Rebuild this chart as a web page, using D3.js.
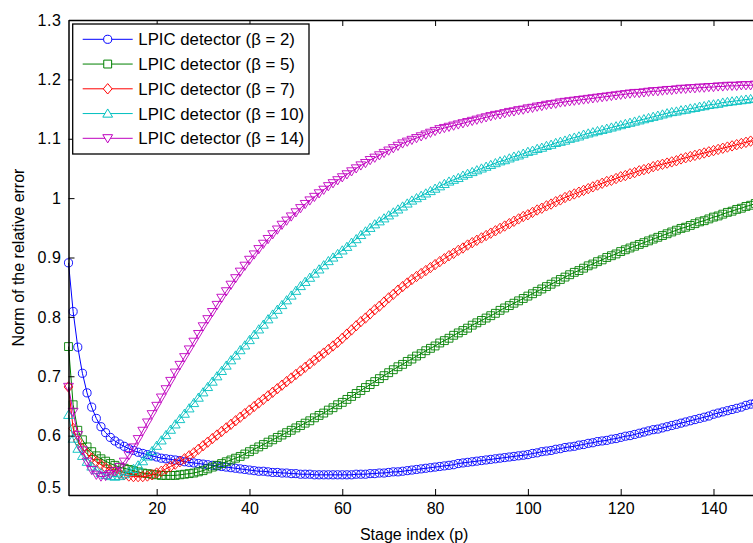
<!DOCTYPE html>
<html>
<head>
<meta charset="utf-8">
<script src="https://cdn.jsdelivr.net/npm/d3@7/dist/d3.min.js"></script>
<style>
  html, body { margin: 0; padding: 0; background: #fff; }
  svg { display: block; }
  text { font-family: "Liberation Sans", Arial, Helvetica, sans-serif; fill: #000; }
</style>
</head>
<body>
<svg id="chart" width="753" height="543"></svg>
<script>
// ---------------- data ----------------
const stages = d3.range(1, 151); // stage index p = 1..150

const beta2 = [.891,.809,.749,.705,.672,.648,.629,.615,.605,.597,
.591,.586,.582,.578,.575,.572,.570,.568,.566,.564,
.562,.561,.560,.559,.558,.556,.555,.554,.553,.552,
.551,.550,.549,.548,.547,.546,.545,.544,.543,.542,
.541,.540,.540,.539,.538,.538,.537,.537,.536,.536,
.535,.535,.535,.534,.534,.534,.534,.534,.534,.534,
.534,.534,.535,.535,.535,.536,.536,.537,.537,.538,
.539,.539,.540,.541,.542,.543,.544,.545,.546,.547,
.548,.549,.550,.551,.553,.554,.555,.556,.557,.558,
.559,.560,.561,.562,.563,.564,.565,.566,.567,.568,
.570,.571,.573,.574,.575,.577,.578,.580,.581,.582,
.584,.585,.587,.588,.590,.591,.592,.594,.595,.597,
.599,.600,.602,.604,.606,.608,.610,.611,.613,.615,
.617,.619,.621,.623,.625,.627,.629,.631,.633,.636,
.638,.640,.642,.644,.646,.648,.651,.653,.655,.657];

const beta5 = [.750,.652,.609,.593,.581,.573,.566,.561,.557,.553,
.550,.547,.545,.543,.541,.539,.537,.536,.535,.534,
.533,.533,.533,.533,.534,.535,.536,.537,.539,.541,
.544,.547,.550,.553,.556,.559,.562,.565,.569,.573,
.577,.581,.585,.589,.593,.597,.601,.605,.609,.613,
.617,.621,.625,.630,.634,.638,.643,.647,.652,.656,
.661,.666,.671,.676,.681,.686,.691,.696,.701,.706,
.711,.716,.720,.725,.729,.734,.738,.743,.747,.751,
.756,.760,.764,.769,.773,.777,.781,.786,.790,.794,
.798,.802,.806,.811,.815,.819,.823,.827,.831,.835,
.839,.843,.847,.851,.855,.859,.863,.867,.871,.875,
.878,.882,.886,.889,.893,.896,.900,.903,.906,.910,
.913,.916,.919,.922,.925,.928,.931,.934,.937,.940,
.943,.946,.949,.951,.954,.957,.960,.962,.965,.968,
.970,.973,.976,.978,.981,.983,.986,.988,.991,.993];

const beta7 = [.682,.612,.591,.578,.569,.562,.556,.551,.546,.542,
.539,.536,.534,.532,.531,.531,.531,.532,.534,.537,
.540,.544,.548,.552,.556,.561,.566,.571,.577,.583,
.589,.595,.601,.607,.613,.619,.625,.631,.637,.643,
.649,.655,.661,.667,.673,.679,.685,.691,.697,.703,
.709,.715,.721,.727,.733,.739,.745,.751,.757,.764,
.771,.778,.785,.792,.798,.805,.812,.818,.825,.832,
.838,.845,.851,.857,.863,.868,.873,.878,.883,.888,
.893,.898,.903,.907,.912,.916,.921,.925,.929,.933,
.937,.941,.945,.949,.953,.957,.961,.965,.969,.972,
.976,.980,.983,.987,.990,.994,.997,1.001,1.004,1.007,
1.010,1.013,1.016,1.019,1.022,1.025,1.028,1.030,1.033,1.036,
1.038,1.041,1.043,1.046,1.048,1.050,1.053,1.055,1.057,1.059,
1.061,1.063,1.066,1.068,1.070,1.072,1.074,1.076,1.078,1.080,
1.082,1.084,1.086,1.088,1.090,1.092,1.094,1.096,1.097,1.099];

const beta10 = [.635,.595,.578,.566,.556,.548,.542,.537,.534,.532,
.531,.532,.535,.539,.544,.550,.557,.565,.574,.583,
.592,.601,.610,.619,.628,.637,.646,.655,.664,.673,
.682,.691,.700,.709,.718,.727,.735,.744,.752,.761,
.770,.779,.787,.796,.804,.812,.820,.828,.836,.844,
.852,.859,.866,.873,.880,.887,.894,.900,.906,.912,
.918,.925,.931,.938,.944,.950,.956,.961,.966,.971,
.976,.981,.986,.991,.996,1.000,1.004,1.008,1.012,1.016,
1.020,1.024,1.028,1.031,1.034,1.038,1.041,1.044,1.047,1.050,
1.053,1.056,1.059,1.062,1.064,1.067,1.070,1.072,1.075,1.078,
1.080,1.083,1.085,1.088,1.090,1.093,1.095,1.097,1.100,1.102,
1.104,1.107,1.109,1.111,1.113,1.115,1.117,1.119,1.121,1.123,
1.125,1.127,1.129,1.131,1.133,1.135,1.137,1.139,1.141,1.143,
1.145,1.146,1.148,1.149,1.151,1.152,1.154,1.155,1.157,1.158,
1.159,1.161,1.162,1.163,1.164,1.165,1.166,1.167,1.168,1.169];

const beta14 = [.682,.640,.601,.575,.556,.542,.534,.531,.532,.535,
.540,.547,.556,.567,.580,.594,.608,.622,.636,.650,
.664,.678,.692,.706,.719,.732,.745,.758,.771,.784,
.796,.808,.820,.832,.843,.854,.865,.876,.886,.896,
.905,.914,.923,.931,.939,.947,.955,.962,.969,.976,
.983,.990,.996,1.002,1.008,1.014,1.020,1.025,1.030,1.035,
1.040,1.045,1.050,1.055,1.059,1.064,1.068,1.072,1.076,1.080,
1.084,1.088,1.092,1.095,1.098,1.101,1.104,1.107,1.110,1.113,
1.116,1.118,1.120,1.122,1.124,1.126,1.128,1.130,1.132,1.134,
1.136,1.138,1.140,1.141,1.143,1.145,1.146,1.148,1.149,1.151,
1.152,1.154,1.155,1.157,1.158,1.159,1.161,1.162,1.163,1.164,
1.165,1.166,1.167,1.168,1.169,1.170,1.171,1.172,1.173,1.174,
1.175,1.176,1.177,1.177,1.178,1.179,1.180,1.180,1.181,1.182,
1.182,1.183,1.184,1.184,1.185,1.185,1.186,1.186,1.187,1.187,
1.188,1.188,1.189,1.189,1.189,1.190,1.190,1.190,1.191,1.191];

const seriesNames = ["LPIC detector (\u03B2 = 2)", "LPIC detector (\u03B2 = 5)",
  "LPIC detector (\u03B2 = 7)", "LPIC detector (\u03B2 = 10)", "LPIC detector (\u03B2 = 14)"];
const seriesValues = [beta2, beta5, beta7, beta10, beta14];
const seriesColors = ["#0000ff", "#008000", "#ff0000", "#00bfbf", "#bf00bf"];
const seriesMarkers = ["circle", "square", "diamond", "triangleUp", "triangleDown"];

const xTickValues = [20, 40, 60, 80, 100, 120, 140];
const yTickValues = [0.5, 0.6, 0.7, 0.8, 0.9, 1.0, 1.1, 1.2, 1.3];
const yTickLabels = ["0.5", "0.6", "0.7", "0.8", "0.9", "1", "1.1", "1.2", "1.3"];
const xTitle = "Stage index (p)";
const yTitle = "Norm of the relative error";

// ---------------- layout ----------------
const svg = d3.select("#chart");
const X0 = 68.5, X1 = 759.9, Y0 = 495, Y1 = 20;
const x = d3.scaleLinear().domain([1, 150]).range([X0, X1]);
const y = d3.scaleLinear().domain([0.5, 1.3]).range([Y0, Y1]);

svg.append("rect").attr("width", 753).attr("height", 543).attr("fill", "#fff");

function markerPath(type) {
  switch (type) {
    case "circle": return d3.symbol(d3.symbolCircle, 52)();
    case "square": return d3.symbol(d3.symbolSquare, 62)();
    case "diamond": return "M0,-5.2L4.4,0L0,5.2L-4.4,0Z";
    case "triangleUp": return "M0,-4.6L4.9,3.6L-4.9,3.6Z";
    case "triangleDown": return "M0,4.6L4.9,-3.6L-4.9,-3.6Z";
  }
}

const line = d3.line().x((d, i) => x(stages[i])).y(d => y(d));

const plot = svg.append("g");
seriesValues.forEach((vals, si) => {
  const g = plot.append("g");
  g.append("path").datum(vals)
    .attr("d", line)
    .attr("fill", "none")
    .attr("stroke", seriesColors[si])
    .attr("stroke-width", 1);
  const mp = markerPath(seriesMarkers[si]);
  g.selectAll("path.m").data(vals).enter().append("path")
    .attr("class", "m")
    .attr("d", mp)
    .attr("transform", (d, i) => `translate(${x(stages[i])},${y(d)})`)
    .attr("fill", "none")
    .attr("stroke", seriesColors[si])
    .attr("stroke-width", 0.9);
});

// ---------------- axes ----------------
const axisStyle = g => {
  g.selectAll(".domain").attr("stroke", "#000").attr("stroke-width", 1.5);
  g.selectAll(".tick line").attr("stroke", "#000").attr("stroke-width", 1);
  g.selectAll(".tick text").attr("font-size", 16).attr("fill", "#000")
    .attr("font-family", '"Liberation Sans", Arial, sans-serif');
};

svg.append("g").attr("transform", `translate(0,${Y0})`)
  .call(d3.axisBottom(x).tickValues(xTickValues).tickSizeInner(-6).tickSizeOuter(0).tickPadding(8))
  .call(axisStyle);

svg.append("g").attr("transform", `translate(0,${Y1})`)
  .call(d3.axisTop(x).tickValues(xTickValues).tickSizeInner(-6).tickSizeOuter(0).tickFormat(""))
  .call(axisStyle);

const yAxis = svg.append("g").attr("transform", `translate(${X0},0)`)
  .call(d3.axisLeft(y).tickValues(yTickValues).tickFormat((d, i) => yTickLabels[i])
    .tickSizeInner(-6).tickSizeOuter(0).tickPadding(7))
  .call(axisStyle);
yAxis.selectAll(".tick text").attr("letter-spacing", 0.6);
yAxis.selectAll(".tick text").filter(d => d === 0.5).attr("dy", "-0.18em");

// axis titles
svg.append("text")
  .attr("x", (X0 + X1) / 2).attr("y", 540)
  .attr("text-anchor", "middle").attr("font-size", 16)
  .text(xTitle);
svg.append("text")
  .attr("transform", `translate(24,${(Y0 + Y1) / 2}) rotate(-90)`)
  .attr("text-anchor", "middle").attr("font-size", 16)
  .text(yTitle);

// ---------------- legend ----------------
const lg = svg.append("g");
lg.append("rect")
  .attr("x", 72.7).attr("y", 24).attr("width", 236.3).attr("height", 130)
  .attr("fill", "#fff").attr("stroke", "#000").attr("stroke-width", 1.3);
seriesNames.forEach((name, si) => {
  const ry = 39.3 + si * 24.75;
  lg.append("line").attr("x1", 82.7).attr("x2", 132.7).attr("y1", ry).attr("y2", ry)
    .attr("stroke", seriesColors[si]).attr("stroke-width", 1);
  lg.append("path").attr("d", markerPath(seriesMarkers[si]))
    .attr("transform", `translate(107.7,${ry})`)
    .attr("fill", "#fff").attr("stroke", seriesColors[si]).attr("stroke-width", 1);
  lg.append("text").attr("x", 138.3).attr("y", ry + 6)
    .attr("font-size", 16.8).text(name);
});
</script>
</body>
</html>
